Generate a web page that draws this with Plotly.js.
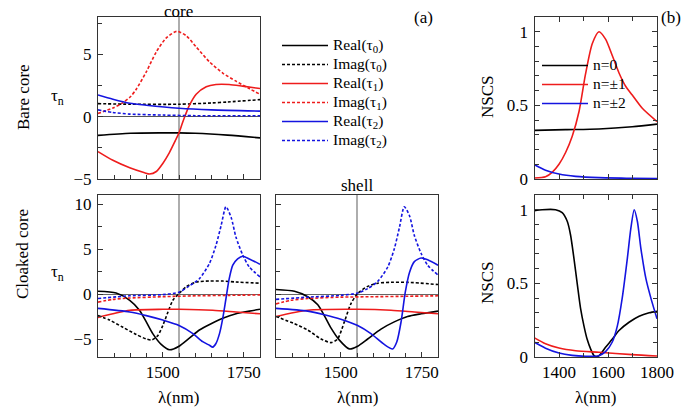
<!DOCTYPE html>
<html><head><meta charset="utf-8">
<script src="https://cdn.plot.ly/plotly-3.0.1.min.js"></script>
<style>html,body{margin:0;padding:0;background:#fff;}</style>
</head><body><div id="chart" style="width:699px;height:412px;"></div>
<script>
// ---------- DATA ----------
// Panel (a) top: bare core, tau_n vs wavelength (nm)
const A_re0_x = [1300,1400,1500,1550,1600,1700,1800];
const A_re0_y = [-1.5,-1.33,-1.3,-1.3,-1.33,-1.48,-1.7];
const A_im0_x = [1300,1400,1550,1650,1700,1800];
const A_im0_y = [1.05,1.0,1.0,1.1,1.18,1.37];
const A_re1_x = [1300,1346,1398,1444,1459,1480,1500,1520,1540,1550,1560,1570,1582,1603,1634,1664,1705,1746,1800];
const A_re1_y = [-2.8,-3.5,-4.1,-4.5,-4.6,-4.4,-3.75,-2.9,-1.85,-1.3,-0.55,0.15,0.9,1.8,2.4,2.58,2.58,2.45,2.26];
const A_im1_x = [1300,1346,1372,1400,1418,1449,1480,1510,1543,1572,1603,1644,1685,1726,1767,1800];
const A_im1_y = [0.26,0.7,1.05,1.6,2.2,3.6,5.2,6.3,6.85,6.5,5.6,4.4,3.5,2.85,2.25,1.8];
const A_re2_x = [1300,1346,1398,1449,1550,1650,1800];
const A_re2_y = [1.74,1.4,1.08,0.92,0.68,0.55,0.45];
const A_im2_x = [1300,1346,1398,1500,1600,1800];
const A_im2_y = [0.55,0.34,0.21,0.13,0.08,0.08];

// Panel (a) bottom-left: cloaked core, "core"
const B_re0_x = [1300,1356,1398,1428,1449,1469,1495,1521,1550,1582,1613,1649,1685,1726,1767,1800];
const B_re0_y = [0.3,0.1,-0.7,-1.8,-3.1,-4.4,-5.6,-6.2,-5.8,-4.9,-4.0,-3.3,-2.7,-2.2,-1.9,-1.7];
const B_im0_x = [1300,1336,1377,1418,1449,1467,1485,1500,1516,1531,1550,1572,1603,1644,1685,1726,1800];
const B_im0_y = [-2.4,-2.9,-3.7,-4.5,-5.0,-5.1,-4.6,-3.5,-2.0,-0.7,0.05,0.8,1.33,1.44,1.44,1.33,1.2];
const B_re1_x = [1300,1346,1398,1500,1550,1654,1726,1800];
const B_re1_y = [-2.6,-2.2,-1.8,-1.7,-1.7,-1.8,-2.0,-2.2];
const B_im1_x = [1300,1346,1398,1500,1603,1705,1800];
const B_im1_y = [-0.9,-0.6,-0.45,-0.3,-0.2,-0.15,-0.1];
const B_re2_x = [1300,1398,1449,1500,1550,1593,1623,1644,1654,1664,1675,1685,1695,1705,1716,1731,1747,1767,1800];
const B_re2_y = [-1.6,-2.0,-2.4,-2.9,-3.5,-4.4,-5.3,-5.7,-5.9,-5.5,-4.4,-2.7,-0.5,1.7,3.2,3.9,4.2,3.9,3.3];
const B_im2_x = [1300,1398,1500,1550,1582,1613,1644,1664,1680,1695,1711,1726,1747,1767,1800];
const B_im2_y = [-0.5,-0.2,-0.07,0.2,0.9,1.7,3.4,5.4,7.6,9.7,8.5,6.3,4.3,3.0,1.9];

// Panel (a) bottom-middle: cloaked core, "shell"
const C_re0_x = [1300,1357,1398,1429,1449,1470,1495,1526,1552,1583,1624,1665,1706,1748,1800];
const C_re0_y = [0.5,0.3,-0.3,-1.2,-2.4,-3.8,-5.1,-6.1,-5.8,-5.0,-3.9,-3.1,-2.5,-2.2,-1.9];
const C_im0_x = [1300,1357,1398,1439,1470,1490,1511,1531,1552,1583,1614,1655,1706,1800];
const C_im0_y = [-2.5,-3.3,-4.0,-5.0,-5.4,-5.0,-3.1,-1.1,0.05,0.85,1.2,1.3,1.3,1.05];
const C_re1_x = [1300,1398,1552,1655,1727,1800];
const C_re1_y = [-2.5,-1.8,-1.7,-1.8,-2.0,-2.2];
const C_im1_x = [1300,1346,1398,1500,1603,1706,1800];
const C_im1_y = [-1.1,-0.7,-0.5,-0.35,-0.3,-0.25,-0.2];
const C_re2_x = [1300,1398,1449,1500,1552,1593,1634,1660,1673,1686,1699,1712,1727,1748,1768,1800];
const C_re2_y = [-1.6,-1.9,-2.3,-2.8,-3.5,-4.4,-5.6,-6.1,-5.3,-3.1,0.2,2.4,3.6,4.0,3.8,3.2];
const C_im2_x = [1300,1398,1500,1552,1583,1614,1645,1665,1681,1696,1712,1727,1748,1768,1800];
const C_im2_y = [-0.6,-0.35,-0.15,0.1,0.6,1.4,3.0,5.0,7.4,9.7,8.7,6.5,4.5,3.2,2.1];

// Panel (b) top: bare core NSCS
const D_n0_x = [1300,1427,1563,1699,1800];
const D_n0_y = [0.33,0.335,0.34,0.355,0.373];
const D_n1_x = [1300,1345,1372,1400,1427,1454,1482,1508,1536,1563,1590,1617,1645,1672,1699,1740,1800];
const D_n1_y = [0.007,0.015,0.045,0.1,0.18,0.29,0.46,0.71,0.92,1.0,0.95,0.84,0.72,0.63,0.57,0.48,0.39];
const D_n2_x = [1300,1345,1400,1468,1563,1699,1800];
const D_n2_y = [0.097,0.06,0.034,0.018,0.009,0.005,0.003];

// Panel (b) bottom: cloaked core NSCS
const E_n0_x = [1300,1331,1386,1413,1434,1447,1461,1475,1488,1502,1515,1529,1543,1556,1570,1590,1617,1645,1686,1727,1768,1800];
const E_n0_y = [0.993,1.0,1.0,0.98,0.92,0.83,0.67,0.49,0.33,0.21,0.12,0.055,0.01,0.002,0.02,0.066,0.12,0.18,0.236,0.277,0.30,0.31];
const E_n1_x = [1300,1345,1400,1468,1563,1699,1800];
const E_n1_y = [0.13,0.09,0.061,0.043,0.032,0.016,0.007];
const E_n2_x = [1300,1345,1400,1454,1508,1563,1590,1617,1638,1658,1679,1693,1707,1720,1734,1755,1775,1800];
const E_n2_y = [0.1,0.06,0.027,0.011,0.005,0.009,0.036,0.1,0.21,0.4,0.67,0.87,1.0,0.92,0.74,0.53,0.4,0.26];

const tauNames = ['Real(τ<sub>0</sub>)','Imag(τ<sub>0</sub>)','Real(τ<sub>1</sub>)','Imag(τ<sub>1</sub>)','Real(τ<sub>2</sub>)','Imag(τ<sub>2</sub>)'];
const nscsNames = ['n=0','n=±1','n=±2'];
const markLambda = 1550;

// ---------- STYLE ----------
const FONT = 'Liberation Serif';
const BLACK = '#000000', RED = '#ee1c1c', BLUE = '#1414e0';
const DASH = '3px,2px';
const LW = 1.6;
const big = s => '<span style="font-size:15.5px">' + s + '</span>';

function tr(x, y, xa, ya, color, dash, name, show, leg) {
  return {x: x, y: y, xaxis: xa, yaxis: ya, type: 'scatter', mode: 'lines',
    line: {color: color, width: LW, dash: dash, shape: 'spline', smoothing: 0.7},
    name: big(name), showlegend: show, legend: leg || 'legend', hoverinfo: 'skip'};
}
function tauSet(p, xa, ya, show) {
  return [
    tr(p.re0x, p.re0y, xa, ya, BLACK, 'solid', tauNames[0], show),
    tr(p.im0x, p.im0y, xa, ya, BLACK, DASH, tauNames[1], show),
    tr(p.re1x, p.re1y, xa, ya, RED, 'solid', tauNames[2], show),
    tr(p.im1x, p.im1y, xa, ya, RED, DASH, tauNames[3], show),
    tr(p.re2x, p.re2y, xa, ya, BLUE, 'solid', tauNames[4], show),
    tr(p.im2x, p.im2y, xa, ya, BLUE, DASH, tauNames[5], show)
  ];
}
const data = [].concat(
  tauSet({re0x:A_re0_x,re0y:A_re0_y,im0x:A_im0_x,im0y:A_im0_y,re1x:A_re1_x,re1y:A_re1_y,im1x:A_im1_x,im1y:A_im1_y,re2x:A_re2_x,re2y:A_re2_y,im2x:A_im2_x,im2y:A_im2_y}, 'x', 'y', true),
  tauSet({re0x:B_re0_x,re0y:B_re0_y,im0x:B_im0_x,im0y:B_im0_y,re1x:B_re1_x,re1y:B_re1_y,im1x:B_im1_x,im1y:B_im1_y,re2x:B_re2_x,re2y:B_re2_y,im2x:B_im2_x,im2y:B_im2_y}, 'x2', 'y2', false),
  tauSet({re0x:C_re0_x,re0y:C_re0_y,im0x:C_im0_x,im0y:C_im0_y,re1x:C_re1_x,re1y:C_re1_y,im1x:C_im1_x,im1y:C_im1_y,re2x:C_re2_x,re2y:C_re2_y,im2x:C_im2_x,im2y:C_im2_y}, 'x3', 'y3', false),
  [tr(D_n0_x, D_n0_y, 'x4', 'y4', BLACK, 'solid', nscsNames[0], true, 'legend2'),
   tr(D_n1_x, D_n1_y, 'x4', 'y4', RED, 'solid', nscsNames[1], true, 'legend2'),
   tr(D_n2_x, D_n2_y, 'x4', 'y4', BLUE, 'solid', nscsNames[2], true, 'legend2'),
   tr(E_n0_x, E_n0_y, 'x5', 'y5', BLACK, 'solid', nscsNames[0], false, 'legend2'),
   tr(E_n1_x, E_n1_y, 'x5', 'y5', RED, 'solid', nscsNames[1], false, 'legend2'),
   tr(E_n2_x, E_n2_y, 'x5', 'y5', BLUE, 'solid', nscsNames[2], false, 'legend2')]
);

const W = 699, H = 412;
const px = v => v / W, py = v => 1 - v / H;
const tickfont = {family: FONT, size: 17, color: '#000'};
function ax(o) {
  return Object.assign({showline: true, mirror: true, linecolor: '#333', linewidth: 1,
    ticks: 'inside', ticklen: 5, tickcolor: '#333', tickwidth: 1, showgrid: false, zeroline: false,
    tickfont: tickfont, fixedrange: true}, o);
}
const minorX50 = {dtick: 50, ticklen: 4, ticks: 'inside', tickcolor: '#333', showgrid: false};
const minorY25 = {dtick: 2.5, ticklen: 4, ticks: 'inside', tickcolor: '#333', showgrid: false};
const minorX100 = {dtick: 100, ticklen: 4, ticks: 'inside', tickcolor: '#333', showgrid: false};
const minorY01 = {dtick: 0.1, ticklen: 4, ticks: 'inside', tickcolor: '#333', showgrid: false};

const tauXrange = [1300, 1800];
const legFont = {family: FONT, size: 10.7, color: '#000'};
const layout = {
  width: W, height: H, margin: {l: 0, r: 0, t: 0, b: 0},
  paper_bgcolor: '#fff', plot_bgcolor: '#fff',
  font: {family: FONT, size: 17, color: '#000'},
  xaxis: ax({domain: [px(98), px(260)], anchor: 'y', range: tauXrange, dtick: 250, tick0: 1500, showticklabels: false, minor: minorX50}),
  yaxis: ax({domain: [py(179), py(17)], anchor: 'x', range: [-5, 8], dtick: 5, tick0: 0, minor: minorY25,
    zeroline: true, zerolinecolor: '#555', zerolinewidth: 1, ticklabelstandoff: 2}),
  xaxis2: ax({domain: [px(98), px(260)], anchor: 'y2', range: tauXrange, dtick: 250, tick0: 1500, minor: minorX50}),
  yaxis2: ax({domain: [py(357), py(195)], anchor: 'x2', range: [-7, 11], dtick: 5, tick0: 0, minor: minorY25,
    zeroline: true, zerolinecolor: '#666', zerolinewidth: 1, ticklabelstandoff: 2}),
  xaxis3: ax({domain: [px(276), px(438)], anchor: 'y3', range: tauXrange, dtick: 250, tick0: 1500, minor: minorX50}),
  yaxis3: ax({domain: [py(357), py(195)], anchor: 'x3', range: [-7, 11], dtick: 5, tick0: 0, minor: minorY25,
    showticklabels: false, zeroline: true, zerolinecolor: '#666', zerolinewidth: 1}),
  xaxis4: ax({domain: [px(534.5), px(657)], anchor: 'y4', range: tauXrange, dtick: 200, tick0: 1400, mirror: 'ticks', showticklabels: false, minor: minorX100}),
  yaxis4: ax({domain: [py(179), py(17)], anchor: 'x4', range: [0, 1.1], dtick: 0.5, tick0: 0, mirror: 'ticks', minor: minorY01, ticklabelstandoff: 2}),
  xaxis5: ax({domain: [px(534.5), px(657)], anchor: 'y5', range: tauXrange, dtick: 200, tick0: 1400, mirror: 'ticks', minor: minorX100}),
  yaxis5: ax({domain: [py(357), py(195)], anchor: 'x5', range: [0, 1.1], dtick: 0.5, tick0: 0, mirror: 'ticks', minor: minorY01, ticklabelstandoff: 2}),
  legend: {x: px(277), y: py(31), xanchor: 'left', yanchor: 'top', bgcolor: 'rgba(0,0,0,0)',
    font: legFont, itemwidth: 46, tracegroupgap: 0},
  legend2: {x: px(537), y: py(51), xanchor: 'left', yanchor: 'top', bgcolor: 'rgba(0,0,0,0)',
    font: legFont, itemwidth: 46, tracegroupgap: 0},
  shapes: ['', '2', '3'].map(s => ({type: 'line', xref: 'x' + s, yref: 'y' + s + ' domain',
    x0: markLambda, x1: markLambda, y0: 0, y1: 1, line: {color: '#777', width: 1.2}, layer: 'below'})),
  annotations: [
    {text: 'core', x: px(178), y: py(0), yanchor: 'top'},
    {text: 'shell', x: px(357), y: py(185)},
    {text: '(a)', x: px(423), y: py(18)},
    {text: '(b)', x: px(671), y: py(18)},
    {text: 'Bare core', x: px(23), y: py(97), textangle: -90},
    {text: 'Cloaked core', x: px(23), y: py(254), textangle: -90},
    {text: 'τ<sub>n</sub>', x: px(57), y: py(97)},
    {text: 'τ<sub>n</sub>', x: px(57), y: py(273)},
    {text: 'NSCS', x: px(487), y: py(97), textangle: -90},
    {text: 'NSCS', x: px(487), y: py(283), textangle: -90},
    {text: 'λ(nm)', x: px(178), y: py(397)},
    {text: 'λ(nm)', x: px(357), y: py(397)},
    {text: 'λ(nm)', x: px(595), y: py(397)}
  ].map(a => Object.assign({xref: 'paper', yref: 'paper', xanchor: 'center', yanchor: 'middle',
    showarrow: false, font: {family: FONT, size: 17, color: '#000'}}, a))
};
Plotly.newPlot('chart', data, layout, {displayModeBar: false, staticPlot: true});
</script>
</body></html>
